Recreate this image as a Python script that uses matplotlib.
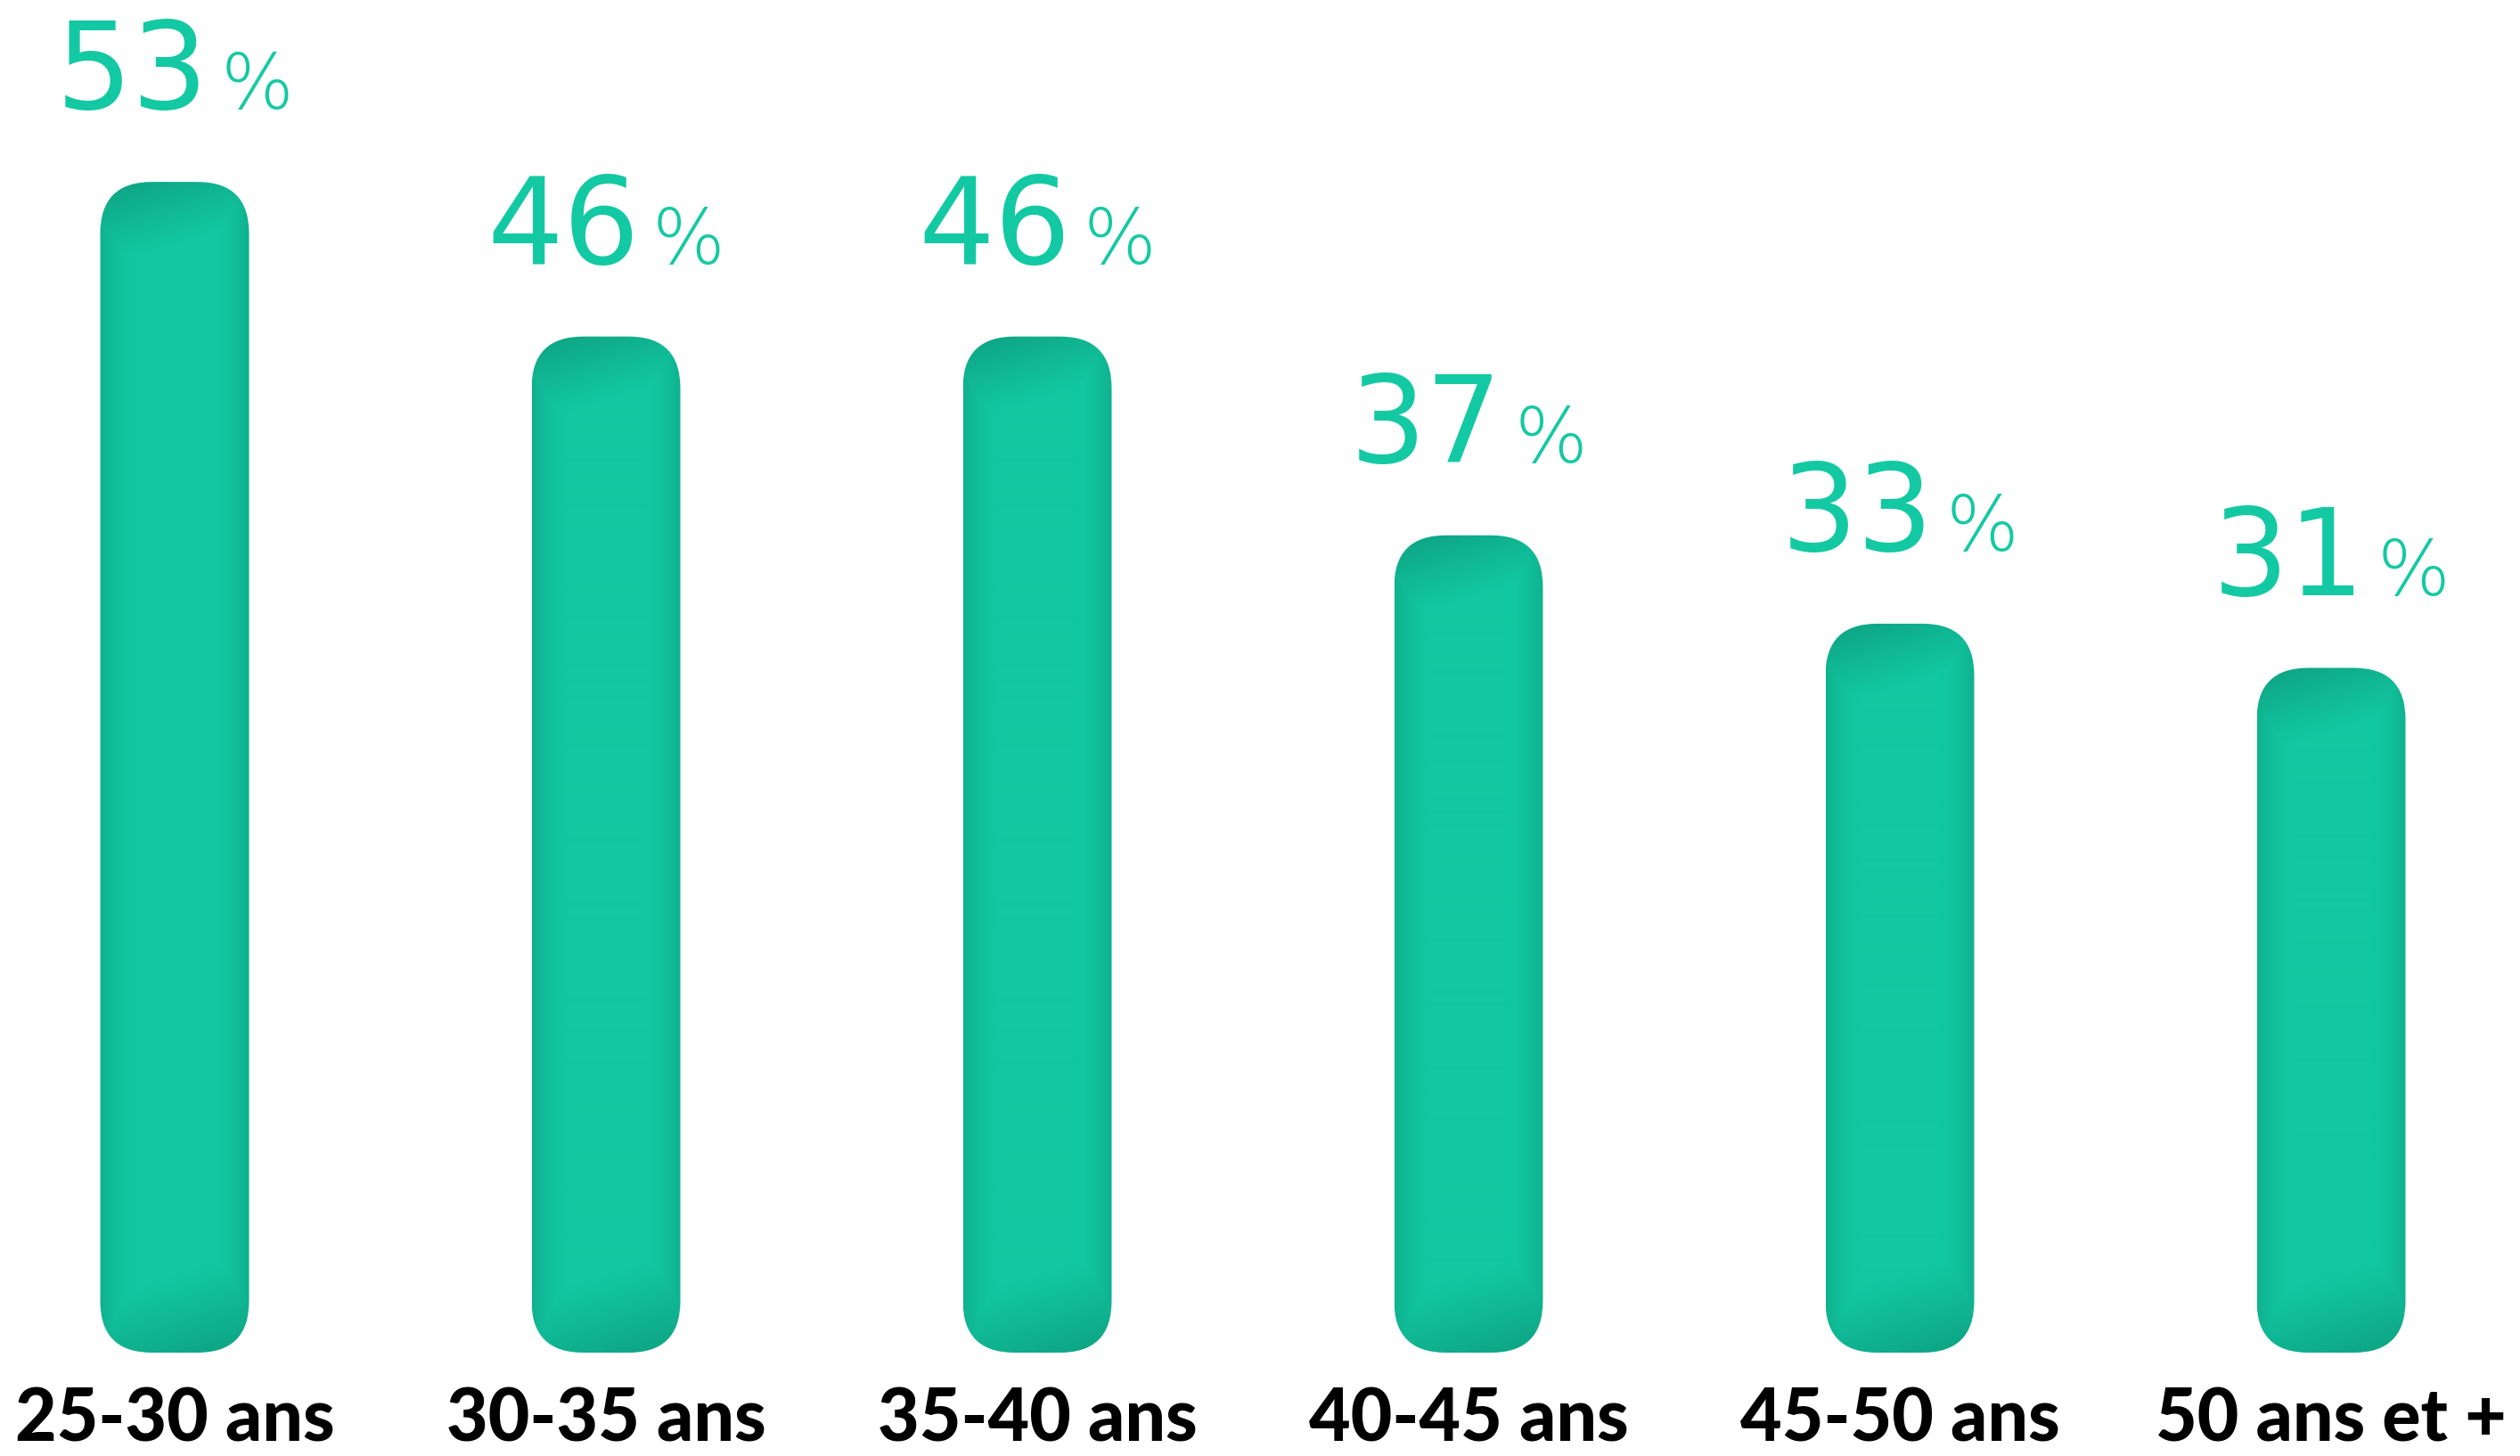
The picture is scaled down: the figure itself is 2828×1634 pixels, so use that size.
import numpy as np
import matplotlib
matplotlib.use('Agg')
import matplotlib.pyplot as plt
from matplotlib.patches import FancyBboxPatch
from matplotlib.colors import to_rgb

# %% Data
categories = ['25-30 ans', '30-35 ans', '35-40 ans', '40-45 ans', '45-50 ans', '50 ans et +']
values = [53, 46, 46, 37, 33, 31]

# %% Layout (pixels)
W, H = 2828, 1634
DPI = 100
px_per_unit = 24.79     # bar height per percentage point
base_px = 116           # bar bottom from figure bottom
step_px = 484           # distance between bar centres
first_px = 196          # centre of first bar
bar_px = 167
radius_px = 58

light = np.array(to_rgb('#12C8A2'))
dark = np.array(to_rgb('#0EA282'))
label_green = '#13C9A3'


def bar_gradient(w_px, h_px):
    xs = np.linspace(-1, 1, w_px)[None, :]
    ys = np.arange(h_px)[:, None]
    d_top = ys
    d_bot = h_px - 1 - ys
    t_edge = np.clip((np.abs(xs) - 0.55) / 0.45, 0, 1) ** 1.5 * 0.6
    # top: darker on the left, a lighter diagonal towards the right
    t_top = np.clip(1 - (d_top + 25 * (xs + 1)) / 95, 0, 1)
    t_bot = np.clip(1 - (d_bot + 25 * (1 - xs)) / 110, 0, 1)
    t = np.maximum(np.maximum(t_edge, t_top), t_bot)
    return light * (1 - t[..., None]) + dark * t[..., None]


fig = plt.figure(figsize=(W / DPI, H / DPI), dpi=DPI)
ax = fig.add_axes([0, base_px / H, 1, 1 - base_px / H])
ax.axis('off')

bar_w = bar_px / step_px
r = radius_px / step_px
aspect = step_px / px_per_unit

for i, v in enumerate(values):
    x0 = i - bar_w / 2
    patch = FancyBboxPatch((x0, 0), bar_w, v,
                           boxstyle=f"round,pad=0,rounding_size={r}",
                           mutation_aspect=aspect, fc='none', ec='none')
    ax.add_patch(patch)
    img = bar_gradient(bar_px, int(round(v * px_per_unit)))
    im = ax.imshow(img, extent=(x0, x0 + bar_w, 0, v), aspect='auto',
                   interpolation='bilinear', zorder=2)
    im.set_clip_path(patch)

ax.set_ylim(0, (H - base_px) / px_per_unit)
ax.set_xlim(-first_px / step_px, (W - first_px) / step_px)

# %% Value labels
renderer = fig.canvas.get_renderer()
gap = 14
lift = 82
for i, v in enumerate(values):
    t1 = ax.annotate(f"{v}", xy=(i, v), xytext=(0, lift), textcoords='offset pixels',
                     ha='left', va='baseline', color=label_green, fontsize=97,
                     family='DejaVu Sans')
    t2 = ax.annotate("%", xy=(i, v), xytext=(0, lift), textcoords='offset pixels',
                     ha='left', va='baseline', color=label_green, fontsize=62,
                     family='DejaVu Sans', fontweight='light')
    w1 = t1.get_window_extent(renderer).width
    w2 = t2.get_window_extent(renderer).width
    total = w1 + gap + w2
    t1.xyann = (-total / 2, lift)
    t2.xyann = (-total / 2 + w1 + gap, lift)

# %% Category labels
for i, cat in enumerate(categories):
    ax.annotate(cat, xy=(i, 0), xytext=(0, -100), textcoords='offset pixels',
                ha='center', va='baseline', color='black', fontsize=58,
                family='Lato', fontweight='black', annotation_clip=False)

fig.savefig('out.png', dpi=DPI, facecolor='white')
